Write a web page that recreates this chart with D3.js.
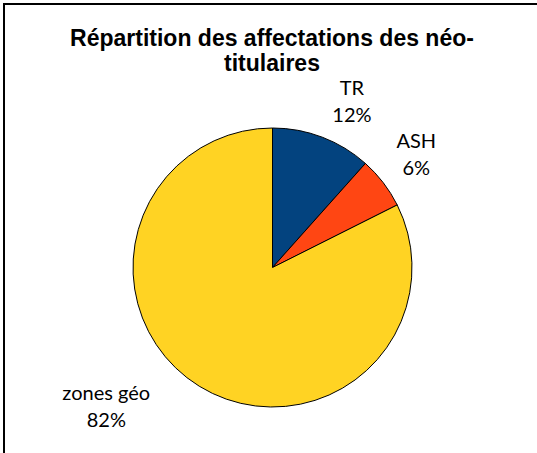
<!DOCTYPE html>
<html>
<head>
<meta charset="utf-8">
<script src="https://cdn.jsdelivr.net/npm/d3@7"></script>
<style>
  body { margin: 0; background: #fff; }
  .title { font-family: "Liberation Sans", Arial, sans-serif; font-weight: bold; font-size: 23px; }
  .label { font-family: Lato, "Open Sans", sans-serif; font-size: 20px; }
</style>
</head>
<body>
<svg id="chart"></svg>
<script>
const categories = ["TR", "ASH", "zones géo"];
const shares = [11.6, 6.0, 82.4];
const colors = ["#03437F", "#FF4613", "#FFD323"];

const w = 537, h = 453;
const svg = d3.select("#chart").attr("width", w).attr("height", h);

// chart frame (runs off the right and bottom edge)
svg.append("rect")
  .attr("x", 4).attr("y", 4)
  .attr("width", w + 10).attr("height", h + 10)
  .attr("fill", "#fff")
  .attr("stroke", "#000")
  .attr("stroke-width", 2);

const title = svg.append("text")
  .attr("class", "title")
  .attr("text-anchor", "middle");
title.append("tspan").attr("x", 272).attr("y", 46).text("Répartition des affectations des néo-");
title.append("tspan").attr("x", 272).attr("y", 71).text("titulaires");

const cx = 272.5, cy = 267.5, r = 139.5;
const data = categories.map((c, i) => ({ name: c, value: shares[i], color: colors[i] }));

const pie = d3.pie().value(d => d.value).sort(null);
const arc = d3.arc().innerRadius(0).outerRadius(r);
const arcs = pie(data);

const g = svg.append("g").attr("transform", `translate(${cx},${cy})`);

g.selectAll("path")
  .data(arcs)
  .enter().append("path")
  .attr("d", arc)
  .attr("fill", d => d.data.color)
  .attr("stroke", "#000")
  .attr("stroke-width", 1);

// label placement: radius and extra angle shift (degrees) per slice
const labelLayout = [
  { radius: 182, shift: 5 },
  { radius: 181, shift: 0 },
  { radius: 218, shift: 18 }
];

const labels = g.selectAll("text.label")
  .data(arcs)
  .enter().append("text")
  .attr("class", "label")
  .attr("text-anchor", "middle")
  .attr("transform", (d, i) => {
    const a = (d.startAngle + d.endAngle) / 2 + labelLayout[i].shift * Math.PI / 180;
    const lr = labelLayout[i].radius;
    return `translate(${lr * Math.sin(a)},${-lr * Math.cos(a)})`;
  });

labels.append("tspan").attr("x", 0).attr("y", -9).text(d => d.data.name);
labels.append("tspan").attr("x", 0).attr("y", 18).text(d => Math.round(d.data.value) + "%");
</script>
</body>
</html>
